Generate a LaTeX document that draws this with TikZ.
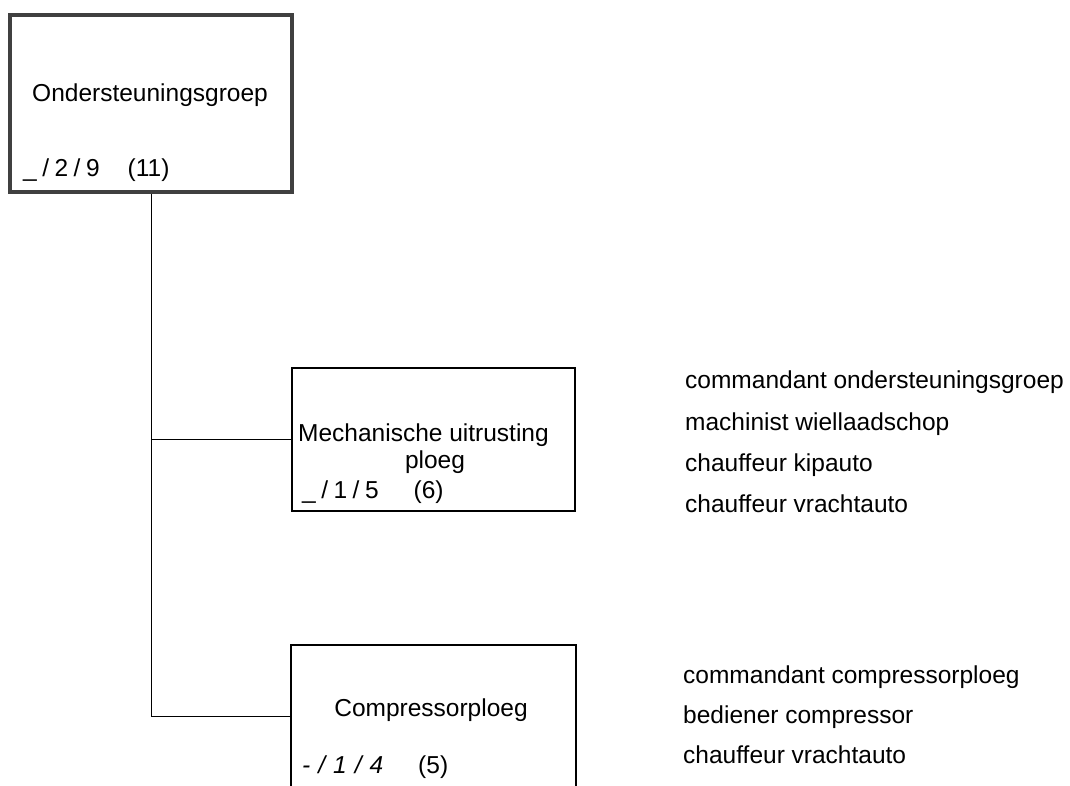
\documentclass[tikz,border=0pt]{standalone}
\usepackage{fontspec}
\setmainfont{Liberation Sans}
\usetikzlibrary{positioning}

\tikzset{
  hoofdbox/.style={draw=black!75, line width=4pt, minimum width=282pt, minimum height=177pt, inner sep=0pt},
  groepbox/.style={draw, line width=2pt, minimum width=283pt, minimum height=143pt, inner sep=0pt},
  txt/.style={inner sep=0pt, font=\fontsize{24.5}{29}\selectfont},
  lijn/.style={line width=1pt}
}

\begin{document}
\begin{tikzpicture}[x=1pt, y=-1pt]
	\clip (0,0) rectangle (1070,786);
	\draw (151,103.5) node[hoofdbox] (ond) {}
	(433.5,439.5) node[groepbox] (mech) {}
	(433.5,716) node[groepbox, draw=none, minimum height=140pt] (comp) {};
	\draw[line width=2pt] (comp.south west) -- (comp.north west) -- (comp.north east) -- (comp.south east);
	
	% teksten in de blokken
	\draw (32,102) node[txt, anchor=base west] (ondnaam) {Ondersteuningsgroep}
	(23,177) node[txt, anchor=base west] (ondsterkte) {\_\hspace{5.5pt}/\hspace{5.5pt}2\hspace{5.5pt}/\hspace{5.5pt}9\hspace{28pt}(11)}
	(298,441) node[txt, anchor=base west] (mechnaam) {Mechanische uitrusting}
	(435,468) node[txt, anchor=base] (mechnaam2) {ploeg}
	(302,498) node[txt, anchor=base west] (mechsterkte) {\_\hspace{5.5pt}/\hspace{5.5pt}1\hspace{5.5pt}/\hspace{5.5pt}5\hspace{35pt}(6)}
	(431,716) node[txt, anchor=base] (compnaam) {Compressorploeg}
	(302,773) node[txt, anchor=base west] (compsterkte) {\textit{-\hspace{8pt}/\hspace{8pt}1\hspace{8pt}/\hspace{8pt}4}\hspace{35pt}(5)};
	
	% functies
	\draw (685,388) node[txt, anchor=base west] (f1) {commandant ondersteuningsgroep}
	(685,430) node[txt, anchor=base west] (f2) {machinist wiellaadschop}
	(685,471) node[txt, anchor=base west] (f3) {chauffeur kipauto}
	(685,512) node[txt, anchor=base west] (f4) {chauffeur vrachtauto}
	(683,683) node[txt, anchor=base west] (f5) {commandant compressorploeg}
	(683,723) node[txt, anchor=base west] (f6) {bediener compressor}
	(683,763) node[txt, anchor=base west] (f7) {chauffeur vrachtauto};
	
	\draw[lijn] (ond.south) |- (mech.west);
	\draw[lijn] (ond.south) |- (comp.west);
\end{tikzpicture}
\end{document}
